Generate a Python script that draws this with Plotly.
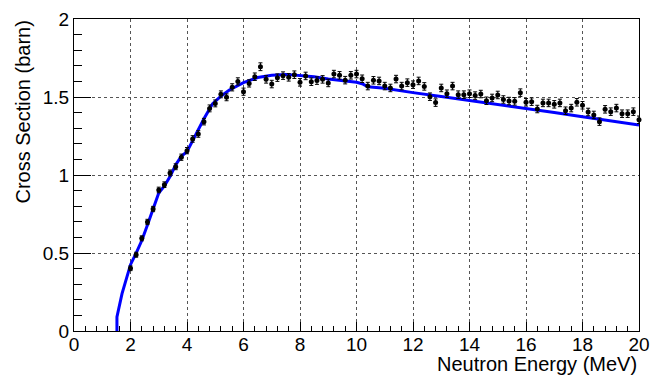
import plotly.graph_objects as go

# Measured cross section (barn) vs neutron energy (MeV)
energy = [2.0, 2.2, 2.4, 2.6, 2.8, 3.0, 3.2, 3.4, 3.6, 3.8,
          4.0, 4.2, 4.4, 4.6, 4.8, 5.0, 5.2, 5.4, 5.6, 5.8,
          6.0, 6.2, 6.4, 6.6, 6.8, 7.0, 7.2, 7.4, 7.6, 7.8,
          8.0, 8.2, 8.4, 8.6, 8.8, 9.0, 9.2, 9.4, 9.6, 9.8,
          10.0, 10.2, 10.4, 10.6, 10.8, 11.0, 11.2, 11.4, 11.6, 11.8,
          12.0, 12.2, 12.4, 12.6, 12.8, 13.0, 13.2, 13.4, 13.6, 13.8,
          14.0, 14.2, 14.4, 14.6, 14.8, 15.0, 15.2, 15.4, 15.6, 15.8,
          16.0, 16.2, 16.4, 16.6, 16.8, 17.0, 17.2, 17.4, 17.6, 17.8,
          18.0, 18.2, 18.4, 18.6, 18.8, 19.0, 19.2, 19.4, 19.6, 19.8,
          20.0]
xsec = [0.402, 0.489, 0.594, 0.699, 0.782, 0.904, 0.938, 1.013, 1.053, 1.114,
        1.156, 1.231, 1.263, 1.342, 1.427, 1.459, 1.517, 1.498, 1.562, 1.600,
        1.534, 1.587, 1.630, 1.694, 1.613, 1.583, 1.624, 1.637, 1.626, 1.643,
        1.594, 1.635, 1.598, 1.605, 1.613, 1.590, 1.647, 1.639, 1.608, 1.639,
        1.647, 1.617, 1.570, 1.607, 1.603, 1.570, 1.558, 1.615, 1.570, 1.592,
        1.579, 1.603, 1.568, 1.502, 1.464, 1.558, 1.521, 1.570, 1.515, 1.515,
        1.521, 1.509, 1.519, 1.476, 1.494, 1.513, 1.484, 1.474, 1.472, 1.528,
        1.466, 1.470, 1.423, 1.462, 1.462, 1.453, 1.462, 1.412, 1.429, 1.466,
        1.447, 1.404, 1.385, 1.342, 1.421, 1.406, 1.429, 1.393, 1.393, 1.406,
        1.354]
xsec_err = [0.015, 0.016, 0.016, 0.017, 0.017, 0.018, 0.018, 0.019, 0.019, 0.020,
            0.020, 0.021, 0.021, 0.021, 0.022, 0.022, 0.022, 0.022, 0.023, 0.023,
            0.023, 0.023, 0.024, 0.025, 0.024, 0.024, 0.024, 0.024, 0.024, 0.024,
            0.024, 0.024, 0.024, 0.024, 0.024, 0.024, 0.024, 0.024, 0.024, 0.024,
            0.024, 0.024, 0.024, 0.024, 0.024, 0.024, 0.024, 0.024, 0.024, 0.024,
            0.024, 0.024, 0.024, 0.024, 0.024, 0.024, 0.024, 0.024, 0.024, 0.024,
            0.024, 0.024, 0.024, 0.024, 0.024, 0.024, 0.024, 0.024, 0.024, 0.024,
            0.024, 0.024, 0.024, 0.024, 0.024, 0.024, 0.024, 0.024, 0.024, 0.024,
            0.024, 0.024, 0.024, 0.024, 0.024, 0.024, 0.024, 0.024, 0.024, 0.024,
            0.024]

# Evaluated cross section curve
eval_energy = [1.52, 1.52, 1.7, 2.0, 2.2, 2.4, 2.6, 2.8, 3.0, 3.2,
               3.4, 3.6, 3.8, 4.0, 4.3, 4.6, 4.9, 5.2, 5.5, 6.0,
               6.5, 7.0, 7.5, 8.0, 8.5, 9.0, 9.5, 10.0, 10.2, 10.4,
               11.0, 11.5, 12.0, 13.0, 14.0, 15.0, 16.0, 17.0, 18.0, 19.0,
               20.0]
eval_xsec = [0.0, 0.09, 0.24, 0.425, 0.50, 0.58, 0.68, 0.78, 0.885, 0.93,
             0.99, 1.065, 1.12, 1.15, 1.26, 1.36, 1.455, 1.505, 1.545, 1.592,
             1.625, 1.640, 1.645, 1.638, 1.630, 1.615, 1.605, 1.595, 1.585, 1.565,
             1.556, 1.540, 1.528, 1.503, 1.478, 1.453, 1.427, 1.400, 1.373, 1.346,
             1.320]

x_ticks = [0, 2, 4, 6, 8, 10, 12, 14, 16, 18, 20]
y_ticks = [0, 0.5, 1, 1.5, 2]
y_tick_text = ["0", "0.5", "1", "1.5", "2"]

FONT = "Liberation Sans, Arial, sans-serif"

fig = go.Figure()

fig.add_trace(go.Scatter(
    x=eval_energy, y=eval_xsec, mode="lines",
    line=dict(color="#0000ff", width=3),
    showlegend=False, hoverinfo="skip",
))

fig.add_trace(go.Scatter(
    x=energy, y=xsec, mode="markers",
    marker=dict(color="black", size=5, symbol="circle"),
    error_y=dict(type="data", array=xsec_err, visible=True,
                 color="black", thickness=1, width=2),
    cliponaxis=False, showlegend=False,
))

axis_common = dict(
    showline=True, linecolor="black", linewidth=1, mirror=True,
    ticks="inside", tickcolor="black", tickwidth=1,
    showgrid=True, gridcolor="#555555", griddash="dot", gridwidth=1,
    zeroline=False, automargin=False,
    tickfont=dict(family=FONT, size=19, color="black"),
)

fig.update_xaxes(
    range=[0, 20], tickvals=x_ticks, ticklen=9, ticklabelstandoff=-4,
    minor=dict(dtick=0.4, ticks="inside", ticklen=5, tickcolor="black", showgrid=False),
    **axis_common,
)
fig.update_yaxes(
    range=[0, 2], tickvals=y_ticks, ticktext=y_tick_text, ticklen=17,
    minor=dict(dtick=0.1, ticks="inside", ticklen=8, tickcolor="black", showgrid=False),
    **axis_common,
)

fig.add_annotation(
    text="Neutron Energy (MeV)", xref="paper", yref="paper",
    x=1.0, y=-0.107, xanchor="right", yanchor="middle", showarrow=False,
    font=dict(family=FONT, size=20, color="black"),
)
fig.add_annotation(
    text="Cross Section (barn)", xref="paper", yref="paper",
    x=-0.092, y=1.0, xanchor="center", yanchor="top", textangle=-90,
    showarrow=False, font=dict(family=FONT, size=20, color="black"),
)

fig.update_layout(
    width=654, height=378,
    margin=dict(l=74, r=15, t=19, b=47),
    paper_bgcolor="white", plot_bgcolor="white",
    showlegend=False,
)

fig.write_html("out.html")
